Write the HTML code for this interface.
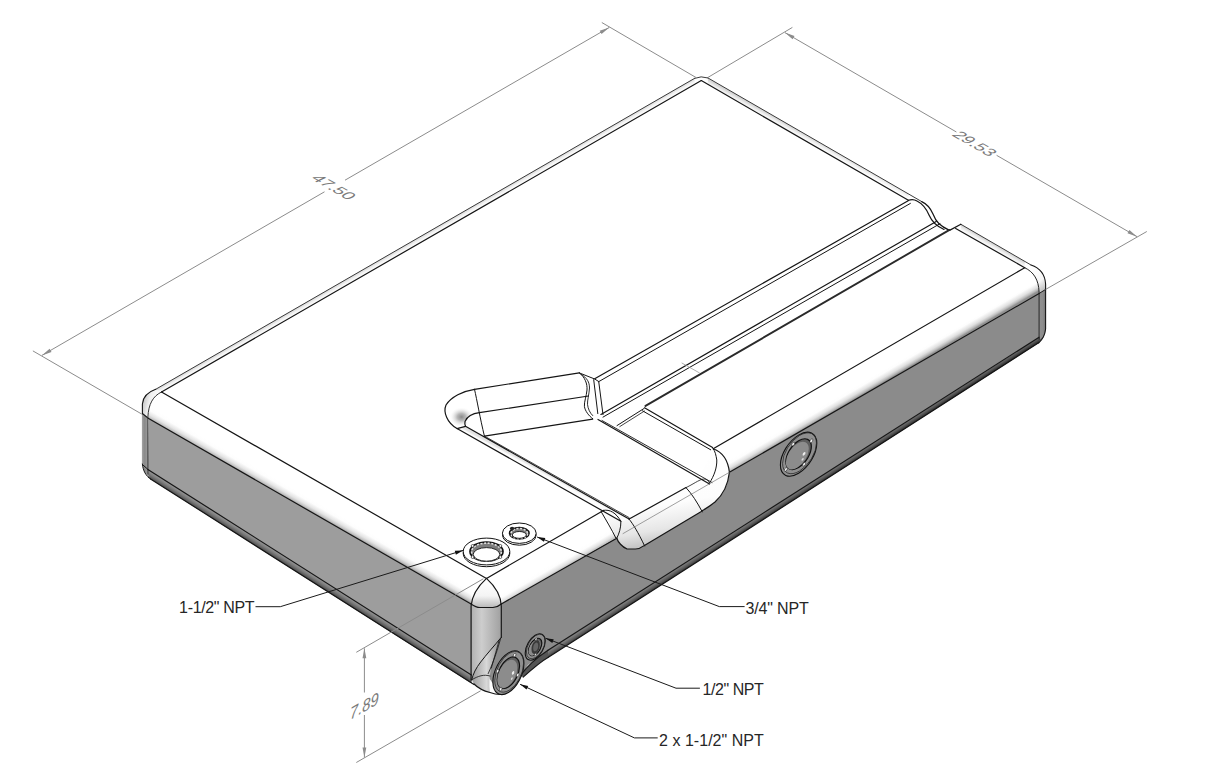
<!DOCTYPE html>
<html><head><meta charset="utf-8"><title>Tank</title>
<style>
html,body{margin:0;padding:0;background:#fff;width:1214px;height:777px;overflow:hidden}
svg{display:block}
.t{font-family:"Liberation Sans",sans-serif;fill:#262626}
.d{font-family:"Liberation Sans",sans-serif;fill:#7a7a7a}
</style></head><body>
<svg width="1214" height="777" viewBox="0 0 1214 777">
<defs>
<linearGradient id="b1" gradientUnits="userSpaceOnUse" x1="310.1" y1="498.2" x2="304.5" y2="508"><stop offset="0" stop-color="#fff"/><stop offset="0.3" stop-color="#fdfdfd"/><stop offset="0.65" stop-color="#e4e4e4"/><stop offset="0.85" stop-color="#c6c6c6"/><stop offset="1" stop-color="#a2a2a2"/></linearGradient>
<linearGradient id="b2" gradientUnits="userSpaceOnUse" x1="309.8" y1="572.1" x2="306" y2="578.1"><stop offset="0" stop-color="#9a9a9a"/><stop offset="0.5" stop-color="#767676"/><stop offset="1" stop-color="#444"/></linearGradient>
<linearGradient id="b3" gradientUnits="userSpaceOnUse" x1="770.2" y1="435.8" x2="775.9" y2="445.5"><stop offset="0" stop-color="#fff"/><stop offset="0.3" stop-color="#fdfdfd"/><stop offset="0.65" stop-color="#e0e0e0"/><stop offset="0.85" stop-color="#bcbcbc"/><stop offset="1" stop-color="#909090"/></linearGradient>
<linearGradient id="b4" gradientUnits="userSpaceOnUse" x1="793.5" y1="493.8" x2="796.4" y2="498.3"><stop offset="0" stop-color="#7c7c7c"/><stop offset="0.5" stop-color="#5a5a5a"/><stop offset="1" stop-color="#2e2e2e"/></linearGradient>
<linearGradient id="gVC" x1="0" y1="0" x2="1" y2="0"><stop offset="0" stop-color="#b0b0b0"/><stop offset="0.35" stop-color="#cdcdcd"/><stop offset="1" stop-color="#a0a0a0"/></linearGradient>
<linearGradient id="gVR" x1="0" y1="0" x2="1" y2="0"><stop offset="0" stop-color="#909090"/><stop offset="0.6" stop-color="#8c8c8c"/><stop offset="1" stop-color="#747474"/></linearGradient>
<linearGradient id="gVL" x1="0" y1="0" x2="1" y2="0"><stop offset="0" stop-color="#9a9a9a"/><stop offset="0.3" stop-color="#8a8a8a"/><stop offset="1" stop-color="#a9a9a9"/></linearGradient>
<linearGradient id="gCorner" x1="0" y1="0" x2="0" y2="1"><stop offset="0" stop-color="#fff"/><stop offset="0.6" stop-color="#f4f4f4"/><stop offset="1" stop-color="#b8b8b8"/></linearGradient>
<linearGradient id="gCB" x1="0" y1="0" x2="1" y2="0"><stop offset="0" stop-color="#9a9a9a"/><stop offset="0.5" stop-color="#d8d8d8"/><stop offset="1" stop-color="#888"/></linearGradient>
<linearGradient id="gRC" gradientUnits="userSpaceOnUse" x1="1030" y1="268" x2="1046" y2="290"><stop offset="0" stop-color="#fff"/><stop offset="0.6" stop-color="#f6f6f6"/><stop offset="1" stop-color="#b8b8b8"/></linearGradient>
<linearGradient id="gFadeW" x1="0" y1="0" x2="0" y2="1"><stop offset="0" stop-color="#fff"/><stop offset="1" stop-color="#fff" stop-opacity="0"/></linearGradient>
<linearGradient id="gLip" x1="0" y1="0.1" x2="0.2" y2="1"><stop offset="0" stop-color="#fff"/><stop offset="0.6" stop-color="#fdfdfd"/><stop offset="0.85" stop-color="#e6e6e6"/><stop offset="1" stop-color="#c4c4c4"/></linearGradient>
<linearGradient id="b5" gradientUnits="userSpaceOnUse" x1="425.2" y1="233.8" x2="427.8" y2="238.3"><stop offset="0" stop-color="#d8d8d8"/><stop offset="0.5" stop-color="#f2f2f2"/><stop offset="1" stop-color="#fff"/></linearGradient>
<linearGradient id="b6" gradientUnits="userSpaceOnUse" x1="808.1" y1="135.9" x2="805.4" y2="140.7"><stop offset="0" stop-color="#d4d4d4"/><stop offset="0.5" stop-color="#f0f0f0"/><stop offset="1" stop-color="#fff"/></linearGradient>
<linearGradient id="b7" gradientUnits="userSpaceOnUse" x1="992.8" y1="243" x2="990" y2="247.8"><stop offset="0" stop-color="#d0d0d0"/><stop offset="0.5" stop-color="#eeeeee"/><stop offset="1" stop-color="#fff"/></linearGradient>
<linearGradient id="gLC" x1="0" y1="0" x2="1" y2="0.3"><stop offset="0" stop-color="#b4b4b4"/><stop offset="0.45" stop-color="#f0f0f0"/><stop offset="1" stop-color="#fff"/></linearGradient>
<radialGradient id="gShadow"><stop offset="0" stop-color="#8a8a8a"/><stop offset="0.35" stop-color="#a4a4a4" stop-opacity="0.8"/><stop offset="0.7" stop-color="#d4d4d4" stop-opacity="0.4"/><stop offset="1" stop-color="#fff" stop-opacity="0"/></radialGradient>
<linearGradient id="gWall" gradientUnits="userSpaceOnUse" x1="538" y1="476" x2="541" y2="470.5"><stop offset="0" stop-color="#fff"/><stop offset="0.7" stop-color="#fcfcfc"/><stop offset="1" stop-color="#e2e2e2"/></linearGradient>
</defs>
<polygon points="148.6,418.5 471.6,604 471.6,676 147.9,469.6" fill="#9d9d9d"/>
<polygon points="148.6,405.5 471.6,591 471.6,604 148.6,418.5" fill="url(#b1)"/>
<polygon points="147.9,469.2 471.6,675.1 471.6,683.4 147.9,477.5" fill="url(#b2)"/>
<polygon points="501.4,604 1039.1,293.5 1039.1,337.2 548,650.3 540,655.5 528,665 520,676 500,694 485,672 493.6,646.3 501.3,637.3" fill="#8b8b8b"/>
<polygon points="501.4,591 1039.1,280.5 1039.1,293.5 501.4,604" fill="url(#b3)"/>
<polygon points="548,650.3 1039.1,337.2 1039.1,342.7 548,657.5" fill="url(#b4)"/>
<path d="M548,650.3 C540,655.5 528,665 520,676 L523.2,677.1 C530,671 540,662 548,657.5 Z" fill="#555"/>
<path d="M471.1,604 L501.3,604 L501.3,637.3 C496,644 488,654 480.7,662 C476,668 473,674 471.7,679.8 Z" fill="url(#gVC)"/>
<path d="M471.7,679.8 C473,674 476,668 480.7,662 C486,655 495,645 501.3,637.3 L497,650 C492,662 488,675 490,693 C484,691 478,688 474,684 Z" fill="url(#gCB)"/>
<path d="M486.5,578.4 C476,588 472,596 471.1,604 Q476,607.5 480,607.5 L493,607.5 Q498,607 501.3,604 C501,596 497,588 486.5,578.4 Z" fill="url(#gCorner)"/>
<path d="M1038.6,342.5 L1039.1,337.5 L1045.5,329 C1045,336 1042,340 1038.6,343 Z" fill="#4a4a4a"/>
<path d="M1039.1,293.5 L1045.5,289.5 L1045.5,329 C1045,334 1043,337 1040.5,339.5 L1039.1,337.5 Z" fill="url(#gVR)"/>
<path d="M1031,265 C1040,268 1045,274 1045.5,284 L1045.5,289.5 L1039.1,293.5 L1039.1,292 C1038.6,280 1034,272 1024.7,267.7 Z" fill="url(#gRC)"/>
<path d="M142.4,413.5 L147.9,417.8 L147.9,474.2 L149.9,477.1 C146,475 143,471 142.4,464 Z" fill="url(#gVL)"/>
<path d="M603.4,510.4 C610,509 616,513 620.9,521.2 L629.1,519.1 L686,487.6 C700,478 708,462 713.2,448.8 C722,452 728,460 729.4,472.3 C728,485 724,494 715,502 C710,506 705,509 700.5,511.9 L643.6,545.9 C640,548 637,549 635.3,549 L627.1,549 C622,547 618,542 616.8,538.2 Z" fill="url(#gLip)"/>
<polygon points="155.7,389.3 694.7,78.3 694.7,84.3 155.7,395.3" fill="url(#b5)"/>
<polygon points="707.9,77.9 908.4,193.9 908.4,200.3 707.9,84.3" fill="url(#b6)"/>
<polygon points="960.9,224.3 1024.7,261.6 1024.7,267.6 960.9,231.3" fill="url(#b7)"/>
<path d="M155.7,389.3 C148,392 143,396 142.4,404 L142.4,413.5 L147.9,417.8 L147.9,417 C148.5,404 153,396 161.5,392 Z" fill="url(#gLC)"/>
<ellipse cx="461.5" cy="417" rx="12" ry="10" fill="url(#gShadow)"/>
<path d="M465,420 C468,416 473,413.5 479.4,412.7 L482,420 L470,428 Z" fill="#fff"/>
<polygon points="457,428.6 620.9,521.2 629.1,519.1 465.5,426.3" fill="url(#gWall)"/>
<g fill="none" stroke="#151515" stroke-width="1.2" stroke-linejoin="round" stroke-linecap="round">
<path d="M155.7,389.3 L694.7,78.3" stroke="#3a3a3a" stroke-width="1"/>
<path d="M161.5,392 L701.3,80.6"/>
<path d="M694.7,78.3 Q701,75.5 707.9,77.9" stroke="#3a3a3a" stroke-width="1"/>
<path d="M707.9,77.9 L921.7,201.6" stroke="#3a3a3a" stroke-width="1"/>
<path d="M701.3,80.6 L908.4,200.3"/>
<path d="M155.7,389.3 C148,392 143,396 142.4,404 L142.4,414" stroke-width="1.1"/>
<path d="M142.4,414 L142.4,464" stroke="#8a8a8a" stroke-width="0.7"/>
<path d="M142.4,464 C143,471 146,476 150.5,478.9" stroke-width="1"/>
<path d="M142.6,464.7 L148.4,469.8" stroke-width="1"/>
<path d="M142.4,413.5 L148.6,418.5" stroke-width="1.1"/>
<path d="M161.5,392 C153,396 148.5,404 147.9,417 L147.9,474" stroke="#333" stroke-width="1"/>
<path d="M161.5,392 L486.5,578.4"/>
<path d="M148.6,418.5 L471.1,604"/>
<path d="M147.9,469.4 L471.4,675.1"/>
<path d="M150.5,478.9 L474,684.5"/>
<path d="M486.5,578.4 C476,588 472,596 471.1,606 L471.1,680"/>
<path d="M486.5,578.4 C497,588 501,596 501.3,606 L501.3,637.3"/>
<path d="M471.1,604 Q476,607.5 480,607.5 L493,607.5 Q498,607 501.3,604"/>
<path d="M501.3,637.3 C495,645 486,655 480.7,662 C476,668 473,674 471.7,679.8" stroke-width="1"/>
<path d="M500.6,638.5 C498,648 494,661 488.2,673.6" stroke-width="0.8"/>
<path d="M499,640.6 C496,652 493,662 491.3,668" stroke-width="0.8"/>
<path d="M471.7,679.8 C478,676 484,674 490,676" stroke-width="0.8"/>
<path d="M474,684 C478,688 484,691 490,692.5 C494,694 497,694.5 500,694.5"/>
<path d="M486.5,578.4 L603.4,510.4"/>
<path d="M501.3,604 L616.8,538.2"/>
<path d="M729.4,472.3 L1039.1,293.5"/>
<path d="M713.2,448.8 L1024.7,267.7"/>
<path d="M548,650.3 L1039.1,337.2"/>
<path d="M548,650.3 C540,655.5 528,665 520,676"/>
<path d="M548,657.5 L1038.6,342.8"/>
<path d="M548,657.5 C540,662 530,671 523.2,677.1"/>
<path d="M1031,265 C1040,268 1045,274 1045.6,284 L1045.6,329 C1045,336 1042,340 1038.6,343" stroke-width="1.1"/>
<path d="M1024.7,267.7 C1034,272 1038.6,280 1039.1,292 L1039.1,339" stroke="#222" stroke-width="1"/>
<path d="M1039.1,293.5 L1045.5,289.5" stroke-width="1"/>
<path d="M960.9,224.3 L1031,265" stroke="#3a3a3a" stroke-width="1"/>
<path d="M955.7,228.4 L1024.7,267.7"/>
<path d="M921.7,201.6 C927,204 930,207 933,214 C936,222 940,226 949.5,230.4 L960.9,224.3"/>
<path d="M908.4,200.3 Q913,198.5 917,201 C922,203.5 926,208 929,215 C932,222 936,226 944,229.5"/>
<path d="M908.6,200.6 L594.7,378.7"/>
<path d="M910.4,203.4 L598.8,381.6" stroke-width="1"/>
<path d="M936.2,221.4 L600.9,414.4"/>
<path d="M940,223.7 L603,417.1" stroke-width="1"/>
<path d="M949.5,229.9 L645.5,405.9" stroke="#2a2a2a" stroke-width="1.9"/>
<path d="M644.5,407.8 L712.6,447.4"/>
<path d="M642.5,410.8 L710.7,449.8" stroke-width="1"/>
<path d="M617,425.6 L644,408.5" stroke-width="1"/>
<path d="M619.8,426.6 L644.5,411" stroke-width="0.8"/>
<path d="M598,419.5 L709.5,484"/>
<path d="M602,420.5 L712,482.5" stroke-width="0.9"/>
<path d="M474.5,389.3 L579.3,372.9"/>
<path d="M474.5,389.3 C463,391 451,397 446,405 C443,412 447,423 457,428.6 L465.5,426.3"/>
<path d="M479.4,412.7 L588.5,396"/>
<path d="M479.4,412.7 C472,413.5 467,417 465,421.5 C464.5,423.5 465,425 465.5,426.3"/>
<path d="M484.4,436.1 L592.7,419.2"/>
<path d="M474.5,389.3 C477,400 480,418 484.4,436.1" stroke-width="1"/>
<path d="M457,428.6 L620.9,521.2"/>
<path d="M465.5,426.3 L629.1,519.1"/>
<path d="M484.8,436.3 L629.1,517.6" stroke-width="0.8"/>
<path d="M579.3,372.9 C585,377 587.5,384 587,390 C586.5,396 584,402 584.4,406.3 C585,411 589,416 592.7,418.7" stroke-width="1"/>
<path d="M581.3,374.4 C587,378 589.5,382 589.5,388 C589,395 587.3,400 587.5,404.3 C588,409 590,413 592.7,415.6" stroke-width="0.9"/>
<path d="M579.3,372.9 L594.7,379 L598.8,381.6" stroke-width="1"/>
<path d="M593.7,379.6 L597.8,413.6" stroke-width="1"/>
<path d="M598.8,382.1 L603,414.6" stroke-width="1"/>
<path d="M603.4,510.4 C610,509 616,513 620.9,521.2 C621,528 619,534 616.8,538.2" stroke-width="1"/>
<path d="M601.3,511.9 C606,520 612,530 615.7,537.7" stroke-width="1"/>
<path d="M629.1,519.1 L686,487.6"/>
<path d="M616.8,538.2 C618,542 622,547 627.1,549 L635.3,549 C638,549 641,548 643.6,545.9 L700.5,511.9 C705,509 710,506 715,502 C724,494 728,485 729.4,472.3 C728,460 722,452 713.2,448.8"/>
<path d="M629.1,519.1 C633,524 638,532 644.6,545.9" stroke-width="1"/>
<path d="M686,487.6 C692,494 697,502 702.3,511.9" stroke-width="1"/>
<path d="M623,533.6 L729.4,472.3" stroke="#777" stroke-width="0.7"/>
<path d="M686,487.6 C698,482 705,474 709.5,483" stroke-width="0.8"/>
<path d="M709.5,483 C714,476 717,468 716.8,460 C716,455 715,451 713.2,448.8" stroke-width="1"/>
<path d="M682,363.1 L699.3,372.8" stroke="#9a9a9a" stroke-width="0.8"/>
</g>
<g stroke="#111" fill="none" stroke-width="1"><ellipse cx="486.5" cy="553.3" rx="23.3" ry="13.4" fill="#fff"/><ellipse cx="486.5" cy="551.5" rx="23.3" ry="13.4" fill="#fff"/><ellipse cx="486.5" cy="551.5" rx="16.5" ry="9.5" fill="#7d7d7d" stroke-width="1.7"/><ellipse cx="486.5" cy="551.9" rx="14.9" ry="8.8" fill="none" stroke="#e0e0e0" stroke-width="1.6" stroke-dasharray="2 1.6"/><ellipse cx="486.5" cy="554.4" rx="13.3" ry="6.8" fill="#fff" stroke-width="0.9"/></g>
<circle cx="472.6" cy="557.1" r="1.4" fill="#fff" stroke="#222" stroke-width="0.7"/>
<circle cx="500.4" cy="557.1" r="1.4" fill="#fff" stroke="#222" stroke-width="0.7"/>
<circle cx="472.6" cy="545.9" r="1.4" fill="#fff" stroke="#222" stroke-width="0.7"/>
<circle cx="500.4" cy="545.9" r="1.4" fill="#fff" stroke="#222" stroke-width="0.7"/>
<g stroke="#111" fill="none" stroke-width="1"><ellipse cx="519.3" cy="535" rx="16.9" ry="10.2" fill="#fff"/><ellipse cx="519.3" cy="533.2" rx="16.9" ry="10.2" fill="#fff"/><ellipse cx="519.3" cy="533.2" rx="9.7" ry="5.7" fill="#7d7d7d" stroke-width="1.7"/><ellipse cx="519.3" cy="533.6" rx="8.3" ry="5.1" fill="none" stroke="#e0e0e0" stroke-width="1.6" stroke-dasharray="2 1.6"/><ellipse cx="519.3" cy="534.9" rx="7" ry="3.4" fill="#fff" stroke-width="0.9"/></g>
<ellipse cx="512.1" cy="528.5" rx="2.2" ry="1.8" fill="#222"/>
<g transform="matrix(18.2,-10.9,0,19.1,798.6,454.2)" stroke="#111"><circle cx="0" cy="0" r="1" fill="#8f8f8f" stroke-width="1.1" vector-effect="non-scaling-stroke"/><circle cx="0.05" cy="-0.02" r="0.93" fill="none" stroke="#2a2a2a" stroke-width="0.8" vector-effect="non-scaling-stroke"/><circle cx="0" cy="0" r="0.7" fill="#5e5e5e" stroke-width="1.2" vector-effect="non-scaling-stroke"/><circle cx="-0.07" cy="0.03" r="0.63" fill="#8c8c8c" stroke="none"/><circle cx="0.3" cy="0.15" r="0.08" fill="#eee" stroke="none"/><circle cx="0.22" cy="0.4" r="0.06" fill="#ddd" stroke="none"/><circle cx="-0.3" cy="-0.7" r="0.085" fill="#f8f8f8" stroke="#222" stroke-width="0.6" vector-effect="non-scaling-stroke"/><circle cx="0.7" cy="-0.3" r="0.085" fill="#f8f8f8" stroke="#222" stroke-width="0.6" vector-effect="non-scaling-stroke"/><circle cx="0.3" cy="0.7" r="0.085" fill="#f8f8f8" stroke="#222" stroke-width="0.6" vector-effect="non-scaling-stroke"/><circle cx="-0.7" cy="0.4" r="0.085" fill="#f8f8f8" stroke="#222" stroke-width="0.6" vector-effect="non-scaling-stroke"/></g>
<g transform="matrix(15.5,-9.3,0,19.8,508.4,672.7)" stroke="#111"><circle cx="0" cy="0" r="1" fill="#8f8f8f" stroke-width="1.1" vector-effect="non-scaling-stroke"/><circle cx="0.05" cy="-0.02" r="0.93" fill="none" stroke="#2a2a2a" stroke-width="0.8" vector-effect="non-scaling-stroke"/><circle cx="0" cy="0" r="0.72" fill="#5e5e5e" stroke-width="1.2" vector-effect="non-scaling-stroke"/><circle cx="-0.07" cy="0.03" r="0.648" fill="#8c8c8c" stroke="none"/><circle cx="0.3" cy="0.15" r="0.08" fill="#eee" stroke="none"/><circle cx="0.22" cy="0.4" r="0.06" fill="#ddd" stroke="none"/><circle cx="0.4" cy="-0.7" r="0.085" fill="#f8f8f8" stroke="#222" stroke-width="0.6" vector-effect="non-scaling-stroke"/><circle cx="-0.7" cy="-0.4" r="0.085" fill="#f8f8f8" stroke="#222" stroke-width="0.6" vector-effect="non-scaling-stroke"/><circle cx="0.6" cy="0.4" r="0.085" fill="#f8f8f8" stroke="#222" stroke-width="0.6" vector-effect="non-scaling-stroke"/><circle cx="-0.5" cy="0.6" r="0.085" fill="#f8f8f8" stroke="#222" stroke-width="0.6" vector-effect="non-scaling-stroke"/></g>
<g transform="matrix(10,-6,0,11.8,535.2,647)" stroke="#111"><circle cx="0" cy="0" r="1" fill="#8f8f8f" stroke-width="1.1" vector-effect="non-scaling-stroke"/><circle cx="0.05" cy="-0.02" r="0.93" fill="none" stroke="#2a2a2a" stroke-width="0.8" vector-effect="non-scaling-stroke"/><circle cx="0" cy="0" r="0.66" fill="#5e5e5e" stroke-width="1.2" vector-effect="non-scaling-stroke"/><circle cx="-0.07" cy="0.03" r="0.5940000000000001" fill="#8c8c8c" stroke="none"/><circle cx="0.3" cy="0.15" r="0.08" fill="#eee" stroke="none"/><circle cx="0.22" cy="0.4" r="0.06" fill="#ddd" stroke="none"/><ellipse cx="0.05" cy="0.02" rx="0.42" ry="0.55" fill="#3a3a3a" stroke="none"/><ellipse cx="0.05" cy="0.02" rx="0.25" ry="0.35" fill="#666" stroke="none"/><circle cx="0.08" cy="-0.62" r="0.1" fill="#f4f4f4" stroke="#222" stroke-width="0.5" vector-effect="non-scaling-stroke"/><circle cx="0.02" cy="0.66" r="0.1" fill="#f4f4f4" stroke="#222" stroke-width="0.5" vector-effect="non-scaling-stroke"/></g>
<g stroke="#8c8c8c" stroke-width="1" fill="none">
<path d="M32.9,350.9 L141.6,414"/>
<path d="M601.8,22.5 L696,77.5"/>
<path d="M707.8,77.5 L792.4,27.4"/>
<path d="M1045.7,289.4 L1146.8,231.5"/>
<path d="M41.9,355.4 L324.5,191.8"/>
<path d="M345,180.2 L609.3,27.4"/>
<path d="M784.9,32.6 L956.4,132"/>
<path d="M996.6,155.3 L1137.1,236.7"/>
<path d="M356.3,652.3 L483.3,578.8"/>
<path d="M356.3,762.5 L480.6,690.8"/>
<path d="M364.4,648.3 L364.4,692.5"/>
<path d="M364.4,715 L364.4,757.5"/>
</g>
<polygon points="41.9,355.4 51.5,352 49.6,348.8" fill="#8c8c8c"/>
<polygon points="609.3,27.4 599.7,30.8 601.6,34" fill="#8c8c8c"/>
<polygon points="784.9,32.6 792.6,39.3 794.5,36" fill="#8c8c8c"/>
<polygon points="1137.1,236.7 1129.4,230 1127.5,233.3" fill="#8c8c8c"/>
<polygon points="364.4,648.3 362.5,658.3 366.3,658.3" fill="#8c8c8c"/>
<polygon points="364.4,757.5 366.3,747.5 362.5,747.5" fill="#8c8c8c"/>
<text class="d" font-size="17.5" text-anchor="middle" transform="matrix(0.866,0.5,-0.8,0.38,334,187)" x="0" y="6.3">47.50</text>
<text class="d" font-size="17.5" text-anchor="middle" transform="matrix(0.866,0.5,-0.8,0.38,975,143.5)" x="0" y="6.3">29.53</text>
<text class="d" font-size="17" font-style="italic" text-anchor="middle" transform="matrix(0.866,-0.5,0,1,364.3,705.5)" x="0" y="6.2">7.89</text>
<g stroke="#1a1a1a" stroke-width="1" fill="none">
<path d="M255.5,606.7 L280.3,606.7 L463,550.4"/>
<path d="M744.6,606.6 L719.3,606.6 L537.1,537"/>
<path d="M699.9,688.2 L676,688.2 L545.5,638.2"/>
<path d="M657.7,737.9 L634.4,737.9 L520.1,684.3"/>
</g>
<polygon points="463,550.4 454.8,550.8 455.9,554.7" fill="#111"/>
<polygon points="537.1,537 543.9,541.7 545.3,538" fill="#111"/>
<polygon points="545.5,638.2 552.3,642.9 553.7,639.2" fill="#111"/>
<polygon points="520.1,684.3 526.5,689.5 528.2,685.9" fill="#111"/>
<text class="t" x="179.1" y="613.3" font-size="16" textLength="75.5" lengthAdjust="spacing">1-1/2" NPT</text>
<text class="t" x="745.5" y="614" font-size="16" textLength="63.3" lengthAdjust="spacing">3/4" NPT</text>
<text class="t" x="702.5" y="695.3" font-size="16" textLength="61.3" lengthAdjust="spacing">1/2" NPT</text>
<text class="t" x="659" y="745.5" font-size="16" textLength="104.8" lengthAdjust="spacing">2 x 1-1/2" NPT</text>
</svg>
</body></html>
